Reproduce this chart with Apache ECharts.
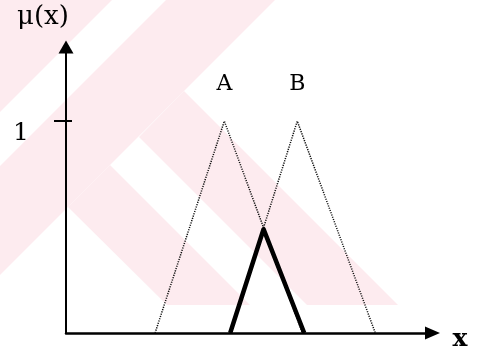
<!DOCTYPE html>
<html>
<head>
<meta charset="utf-8">
<script src="https://cdn.jsdelivr.net/npm/echarts@6/dist/echarts.min.js"></script>
<style>
  html, body { margin: 0; padding: 0; background: #fff; }
  #chart { width: 482px; height: 355px; }
</style>
</head>
<body>
<div id="chart"></div>
<script>
// Triangular membership functions: [x, μ(x)] corners
const setA = [[2.43, 0], [4.32, 1], [6.45, 0]];
const setB = [[4.48, 0], [6.31, 1], [8.44, 0]];
// Overlap of A and B (the intersection A ∩ B)
const setAB = [[4.48, 0], [5.39, 0.49], [6.5, 0]];
const setNames = ['A', 'B'];
const yTicks = [1];

const serif = 'DejaVu Serif';
const ink = '#000';

// Pale background emblem made of diagonal bands
const bandColor = '#fdebef';
const emblem = [
  [[0, 0], [112, 0], [0, 112]],
  [[166, 0], [275, 0], [0, 275], [0, 166]],
  [[184, 91], [398, 305], [307, 305], [139, 137]],
  [[110, 165], [250, 305], [167, 305], [68, 207]]
].map(function (pts) {
  return { type: 'polygon', z: -10, silent: true, shape: { points: pts }, style: { fill: bandColor } };
});

function peakLabel(pts, name) {
  return pts.map(function (p) {
    if (p[1] === 1) {
      return {
        value: p,
        label: {
          show: true, formatter: name, position: 'top', distance: 25,
          fontFamily: serif, fontSize: 22, color: ink
        }
      };
    }
    return { value: p };
  });
}

const chart = echarts.init(document.getElementById('chart'), null, { renderer: 'canvas' });
chart.setOption({
  animation: false,
  backgroundColor: '#fff',
  graphic: emblem,
  grid: { left: 66, right: 49.5, top: 47, bottom: 22 },
  xAxis: {
    type: 'value', min: 0, max: 10,
    name: 'x', nameLocation: 'end', nameGap: 20,
    nameTextStyle: {
      fontFamily: serif, fontSize: 25, fontWeight: 'bold', color: ink,
      verticalAlign: 'top', lineHeight: 12
    },
    axisLine: { show: true, symbol: ['none', 'triangle'], symbolSize: [13, 15], lineStyle: { color: '#000', width: 2.5 } },
    axisTick: { show: false },
    axisLabel: { show: false },
    splitLine: { show: false }
  },
  yAxis: [{
    type: 'value', min: 0, max: 1.35,
    name: 'μ(x)', nameLocation: 'end', nameGap: 17,
    nameTextStyle: { fontFamily: serif, fontSize: 26, color: ink, align: 'center', padding: [0, 46, 0, 0] },
    axisLine: { show: true, symbol: ['none', 'triangle'], symbolSize: [15, 13], lineStyle: { color: '#000', width: 2 } },
    axisTick: { show: true, customValues: yTicks, length: 12, lineStyle: { color: '#000', width: 2 } },
    axisLabel: {
      show: true, customValues: yTicks, margin: 37, verticalAlign: 'top',
      fontFamily: serif, fontSize: 25, color: ink
    },
    splitLine: { show: false }
  }, {
    type: 'value', min: 0, max: 1.35, position: 'left',
    axisLine: { show: false },
    axisTick: { show: true, inside: true, customValues: yTicks, length: 6, lineStyle: { color: '#000', width: 2 } },
    axisLabel: { show: false },
    splitLine: { show: false }
  }],
  series: [
    {
      name: setNames[0], type: 'line', data: peakLabel(setA, setNames[0]),
      symbol: 'circle', symbolSize: 1, itemStyle: { color: 'rgba(0,0,0,0)' },
      lineStyle: { color: '#111', width: 1.5, type: [1.2, 1.2] }
    },
    {
      name: setNames[1], type: 'line', data: peakLabel(setB, setNames[1]),
      symbol: 'circle', symbolSize: 1, itemStyle: { color: 'rgba(0,0,0,0)' },
      lineStyle: { color: '#111', width: 1.5, type: [1.2, 1.2] }
    },
    {
      name: 'A∩B', type: 'line', data: setAB, symbol: 'none',
      lineStyle: { color: '#000', width: 4.5, join: 'round' }
    }
  ]
});
</script>
</body>
</html>
